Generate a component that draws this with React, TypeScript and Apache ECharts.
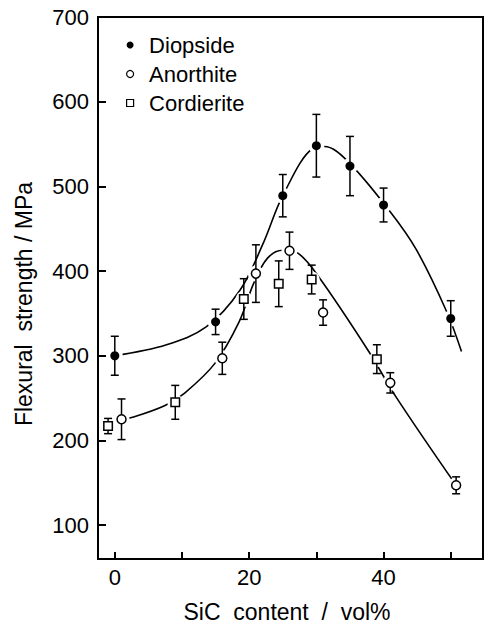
import React, { useEffect, useRef } from "react";
import * as echarts from "echarts";

// Measured flexural strength (MPa) with error half-widths, by SiC content (vol%)
const diopsideX = [0, 15, 25, 30, 35, 40, 50];
const diopsideY = [300, 340, 489, 548, 524, 478, 344];
const diopsideErr = [23, 15, 25, 37, 35, 20, 21];

const anorthiteX = [1, 16, 21, 26, 31, 41, 50.8];
const anorthiteY = [225, 297, 397, 424, 351, 268, 147];
const anorthiteErr = [24, 19, 34, 22, 15, 12, 10];

const cordieriteX = [-1, 9, 19.2, 24.4, 29.3, 39];
const cordieriteY = [217, 245, 367, 385, 390, 296];
const cordieriteErr = [9, 20, 24, 27, 17, 17];

// Hand-drawn trend curves
const upperCurveX = [0, 7.7, 13.6, 18.6, 22.1, 25, 29.5, 31.2, 34.5, 40.9, 44.9, 49.4, 51.6];
const upperCurveY = [300, 313, 334, 377, 433, 489, 545, 547, 531, 471, 425, 352, 305];
const lowerCurveX = [1, 2.5, 7.4, 10.4, 14.9, 18.5, 20.7, 22.7, 25, 27.3, 30.5, 37.8, 41.8, 50.8];
const lowerCurveY = [225, 227, 241, 256, 291, 340, 386, 415, 424.5, 421, 391.5, 305, 252, 147];

const yTicks = [100, 200, 300, 400, 500, 600, 700];
const xTicks = [0, 10, 20, 30, 40, 50];
const xLabels = [0, 20, 40];

const FONT = "'Liberation Sans', Arial, sans-serif";

const zip = (xs: number[], ys: number[]) => xs.map((x, i) => [x, ys[i]]);
const zip3 = (xs: number[], ys: number[], es: number[]) => xs.map((x, i) => [x, ys[i], es[i]]);

export default function App() {
  const ref = useRef<HTMLDivElement>(null);

  useEffect(() => {
    if (!ref.current) return;
    const chart = echarts.init(ref.current, undefined, { renderer: "svg" });

    const allPoints = [
      ...zip(diopsideX, diopsideY),
      ...zip(anorthiteX, anorthiteY),
      ...zip(cordieriteX, cordieriteY),
    ];
    const allErr = [
      ...zip3(diopsideX, diopsideY, diopsideErr),
      ...zip3(anorthiteX, anorthiteY, anorthiteErr),
      ...zip3(cordieriteX, cordieriteY, cordieriteErr),
    ];

    const curveStyle = { color: "#000", width: 1.6 };

    chart.setOption({
      animation: false,
      backgroundColor: "#fff",
      textStyle: { fontFamily: FONT },
      grid: {
        left: 98,
        right: 6,
        top: 17,
        bottom: 65,
        show: true,
        borderColor: "#000",
        borderWidth: 2,
      },
      legend: {
        orient: "vertical",
        left: 121,
        top: 29,
        itemWidth: 28,
        itemHeight: 7,
        itemGap: 7,
        selectedMode: false,
        textStyle: { fontSize: 22, color: "#000", fontFamily: FONT },
        data: [
          { name: "Diopside", icon: "circle", itemStyle: { color: "#000", borderWidth: 0, opacity: 1 } },
          { name: "Anorthite", icon: "circle", itemStyle: { color: "#fff", borderColor: "#000", borderWidth: 1.2, opacity: 1 } },
          { name: "Cordierite", icon: "path://M0 0H10V10H0Z", itemStyle: { color: "#fff", borderColor: "#000", borderWidth: 1.2, opacity: 1 } },
        ],
      },
      xAxis: {
        type: "value",
        min: -2.5,
        max: 54.8,
        splitLine: { show: false },
        axisLine: { show: true, onZero: false, lineStyle: { color: "#000", width: 2 } },
        axisTick: { show: true, inside: true, length: 7, lineStyle: { color: "#000", width: 2 }, customValues: xTicks },
        axisLabel: { color: "#000", fontSize: 22, fontFamily: FONT, margin: 7, customValues: xLabels },
      },
      yAxis: {
        type: "value",
        min: 60,
        max: 700,
        splitLine: { show: false },
        axisLine: { show: true, onZero: false, lineStyle: { color: "#000", width: 2 } },
        axisTick: { show: true, inside: true, length: 8, lineStyle: { color: "#000", width: 2 }, customValues: yTicks },
        axisLabel: { color: "#000", fontSize: 22, fontFamily: FONT, margin: 9, customValues: yTicks },
      },
      graphic: [
        {
          type: "text",
          x: 24,
          y: 304,
          rotation: Math.PI / 2,
          style: {
            text: "Flexural  strength / MPa",
            fontSize: 23,
            fontFamily: FONT,
            fill: "#000",
            textAlign: "center",
            textVerticalAlign: "middle",
          },
        },
        {
          type: "text",
          x: 287,
          y: 612,
          style: {
            text: "SiC  content  /  vol%",
            fontSize: 23,
            fontFamily: FONT,
            fill: "#000",
            textAlign: "center",
            textVerticalAlign: "middle",
          },
        },
      ],
      series: [
        {
          name: "upper-fit",
          type: "line",
          data: zip(upperCurveX, upperCurveY),
          smooth: 0.35,
          showSymbol: false,
          silent: true,
          lineStyle: curveStyle,
          z: 2,
        },
        {
          name: "lower-fit",
          type: "line",
          data: zip(lowerCurveX, lowerCurveY),
          smooth: 0.35,
          showSymbol: false,
          silent: true,
          lineStyle: curveStyle,
          z: 2,
        },
        {
          name: "halo",
          type: "scatter",
          data: allPoints,
          symbol: "circle",
          symbolSize: 16,
          silent: true,
          itemStyle: { color: "#fff", opacity: 1 },
          z: 3,
        },
        {
          name: "errors",
          type: "custom",
          data: allErr,
          encode: { x: 0, y: 1 },
          silent: true,
          z: 4,
          renderItem: (params: any, api: any) => {
            const x = api.value(0);
            const y = api.value(1);
            const e = api.value(2);
            const top = api.coord([x, y + e]);
            const bot = api.coord([x, y - e]);
            const hw = 4;
            const style = { stroke: "#000", lineWidth: 1.5 };
            return {
              type: "group",
              children: [
                { type: "line", shape: { x1: top[0], y1: top[1], x2: bot[0], y2: bot[1] }, style },
                { type: "line", shape: { x1: top[0] - hw, y1: top[1], x2: top[0] + hw, y2: top[1] }, style },
                { type: "line", shape: { x1: bot[0] - hw, y1: bot[1], x2: bot[0] + hw, y2: bot[1] }, style },
              ],
            };
          },
        },
        {
          name: "Diopside",
          type: "scatter",
          data: zip(diopsideX, diopsideY),
          symbol: "circle",
          symbolSize: 9,
          itemStyle: { color: "#000", opacity: 1 },
          z: 5,
        },
        {
          name: "Anorthite",
          type: "scatter",
          data: zip(anorthiteX, anorthiteY),
          symbol: "circle",
          symbolSize: 9,
          itemStyle: { color: "#fff", borderColor: "#000", borderWidth: 1.5, opacity: 1 },
          z: 5,
        },
        {
          name: "Cordierite",
          type: "scatter",
          data: zip(cordieriteX, cordieriteY),
          symbol: "rect",
          symbolSize: 8.5,
          itemStyle: { color: "#fff", borderColor: "#000", borderWidth: 1.5, opacity: 1 },
          z: 5,
        },
      ],
    });

    return () => chart.dispose();
  }, []);

  return (
    <div
      ref={ref}
      style={{ position: "absolute", left: 0, top: 0, width: 489, height: 624 }}
    />
  );
}
